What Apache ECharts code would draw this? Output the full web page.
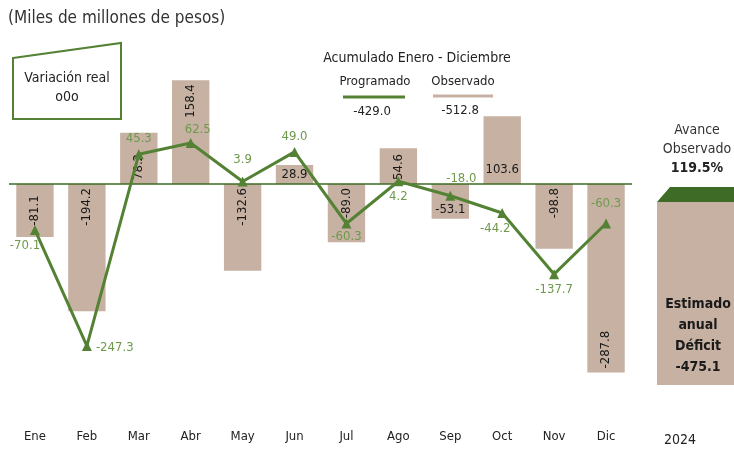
<!DOCTYPE html>
<html>
<head>
<meta charset="utf-8">
<script src="https://cdn.jsdelivr.net/npm/echarts@6/dist/echarts.min.js"></script>
<style>
    html, body { margin: 0; padding: 0; background: #fff; }
    #chart { width: 734px; height: 450px; }
</style>
</head>
<body>
<div id="chart"></div>
<script>
// datos
var meses = ['Ene', 'Feb', 'Mar', 'Abr', 'May', 'Jun', 'Jul', 'Ago', 'Sep', 'Oct', 'Nov', 'Dic'];
var observado = [-81.1, -194.2, 78.2, 158.4, -132.6, 28.9, -89.0, 54.6, -53.1, 103.6, -98.8, -287.8];
var programado = [-70.1, -247.3, 45.3, 62.5, 3.9, 49.0, -60.3, 4.2, -18.0, -44.2, -137.7, -60.3];
var acumProgramado = '-429.0';
var acumObservado = '-512.8';
var avance = '119.5%';
var estimado = '-475.1';

var FONT = '"Liberation Sans Narrow", "DejaVu Sans Condensed", "Liberation Sans", sans-serif';
var BAR_COLOR = '#c6b1a2';
var LINE_COLOR = '#548235';
var LABEL_GREEN = '#6f9a4c';

// etiqueta de barras: 'c' centro, 'z' junto al cero, 'f' extremo, 'h' horizontal
var barLabelMode = ['c', 'z', 'z', 'f', 'z', 'h', 'z', 'z', 'hb', 'hb', 'z', 'f'];
// posicion de etiquetas de la linea
var lineLabelPos = [
    {position: 'bottom', offset: [-10, 0]},
    {position: 'right', offset: [0, 2]},
    {position: 'top', offset: [0, 0]},
    {position: 'top', offset: [7, 2]},
    {position: 'top', offset: [0, -6]},
    {position: 'top', offset: [0, 0]},
    {position: 'bottom', offset: [0, -2]},
    {position: 'bottom', offset: [0, 0]},
    {position: 'top', offset: [11, -2]},
    {position: 'bottom', offset: [-7, 0]},
    {position: 'bottom', offset: [0, 0]},
    {position: 'top', offset: [0, -4]}
];

function barItem(v, i) {
    var mode = barLabelMode[i];
    var label = {show: true, color: '#1a1a1a', fontSize: 13, fontFamily: FONT,
        formatter: function (p) { return p.value.toFixed(1); }};
    if (mode === 'c') {
        label.position = 'inside';
        label.rotate = 90;
    } else if (mode === 'h') {
        label.position = 'inside';
    } else if (mode === 'hb') {
        label.position = v > 0 ? 'insideBottom' : 'insideBottom';
        label.distance = v > 0 ? 8 : 3;
    } else {
        var nearTop = (mode === 'z') === (v < 0);
        label.rotate = 90;
        label.position = nearTop ? 'insideTop' : 'insideBottom';
        label.align = nearTop ? 'right' : 'left';
        label.verticalAlign = 'middle';
        label.distance = 4;
    }
    return {value: v, label: label};
}

function lineItem(v, i) {
    return {value: v, label: {show: true, position: lineLabelPos[i].position, offset: lineLabelPos[i].offset,
        color: LABEL_GREEN, fontSize: 13, fontFamily: FONT, distance: 4,
        formatter: function (p) { return p.value.toFixed(1); }}};
}

var myChart = echarts.init(document.getElementById('chart'));
var option = {
    backgroundColor: '#fff',
    animation: false,
    textStyle: {fontFamily: FONT},
    grid: {left: 9, right: 102, top: 53, bottom: 69.5},
    xAxis: {
        type: 'category',
        data: meses,
        axisLine: {show: false},
        axisTick: {show: false},
        axisLabel: {margin: 50, color: '#222', fontSize: 13, fontFamily: FONT}
    },
    yAxis: {
        type: 'value',
        min: -300,
        max: 200,
        show: false
    },
    series: [{
        name: 'Observado',
        type: 'bar',
        barWidth: '72%',
        itemStyle: {color: BAR_COLOR},
        data: observado.map(barItem),
        markLine: {
            silent: true,
            symbol: 'none',
            label: {show: false},
            lineStyle: {color: '#3d6b22', width: 1.5, type: 'solid'},
            data: [{yAxis: 0}]
        }
    }, {
        name: 'Programado',
        type: 'line',
        z: 5,
        symbol: 'triangle',
        symbolSize: 10,
        lineStyle: {color: LINE_COLOR, width: 3},
        itemStyle: {color: LINE_COLOR},
        data: programado.map(lineItem)
    }],
    graphic: [
        {type: 'text', left: 8, top: 10, style: {text: '(Miles de millones de pesos)', fill: '#333', font: '17px ' + FONT}},
        {type: 'polygon', shape: {points: [[13, 58], [121, 43], [121, 119], [13, 119]]},
            style: {fill: '#fff', stroke: LINE_COLOR, lineWidth: 2}},
        {type: 'text', x: 67, y: 78, style: {text: 'Variación real', fill: '#222', font: '14px ' + FONT, align: 'center', verticalAlign: 'middle'}},
        {type: 'text', x: 67, y: 97, style: {text: 'o0o', fill: '#222', font: '14px ' + FONT, align: 'center', verticalAlign: 'middle'}},
        {type: 'text', x: 417, y: 58, style: {text: 'Acumulado Enero - Diciembre', fill: '#222', font: '14px ' + FONT, align: 'center', verticalAlign: 'middle'}},
        {type: 'text', x: 375, y: 82, style: {text: 'Programado', fill: '#222', font: '13px ' + FONT, align: 'center', verticalAlign: 'middle'}},
        {type: 'line', shape: {x1: 343, y1: 97, x2: 405, y2: 97}, style: {stroke: LINE_COLOR, lineWidth: 3}},
        {type: 'text', x: 372, y: 112, style: {text: acumProgramado, fill: '#222', font: '13px ' + FONT, align: 'center', verticalAlign: 'middle'}},
        {type: 'text', x: 463, y: 82, style: {text: 'Observado', fill: '#222', font: '13px ' + FONT, align: 'center', verticalAlign: 'middle'}},
        {type: 'line', shape: {x1: 433, y1: 96, x2: 493, y2: 96}, style: {stroke: BAR_COLOR, lineWidth: 3}},
        {type: 'text', x: 460, y: 111, style: {text: acumObservado, fill: '#222', font: '13px ' + FONT, align: 'center', verticalAlign: 'middle'}},
        {type: 'text', x: 697, y: 130, style: {text: 'Avance', fill: '#333', font: '14px ' + FONT, align: 'center', verticalAlign: 'middle'}},
        {type: 'text', x: 697, y: 149, style: {text: 'Observado', fill: '#333', font: '14px ' + FONT, align: 'center', verticalAlign: 'middle'}},
        {type: 'text', x: 697, y: 168, style: {text: avance, fill: '#222', font: 'bold 14px ' + FONT, align: 'center', verticalAlign: 'middle'}},
        {type: 'polygon', shape: {points: [[657, 202], [670, 187], [740, 187], [740, 202]]}, style: {fill: '#3e6b26'}},
        {type: 'rect', shape: {x: 657, y: 202, width: 80, height: 183}, style: {fill: BAR_COLOR}},
        {type: 'text', x: 698, y: 304, style: {text: 'Estimado', fill: '#1a1a1a', font: 'bold 14px ' + FONT, align: 'center', verticalAlign: 'middle'}},
        {type: 'text', x: 698, y: 325, style: {text: 'anual', fill: '#1a1a1a', font: 'bold 14px ' + FONT, align: 'center', verticalAlign: 'middle'}},
        {type: 'text', x: 698, y: 346, style: {text: 'Déficit', fill: '#1a1a1a', font: 'bold 14px ' + FONT, align: 'center', verticalAlign: 'middle'}},
        {type: 'text', x: 698, y: 367, style: {text: estimado, fill: '#1a1a1a', font: 'bold 14px ' + FONT, align: 'center', verticalAlign: 'middle'}},
        {type: 'text', x: 680, y: 440, style: {text: '2024', fill: '#222', font: '14px ' + FONT, align: 'center', verticalAlign: 'middle'}}
    ]
};
myChart.setOption(option);
</script>
</body>
</html>
